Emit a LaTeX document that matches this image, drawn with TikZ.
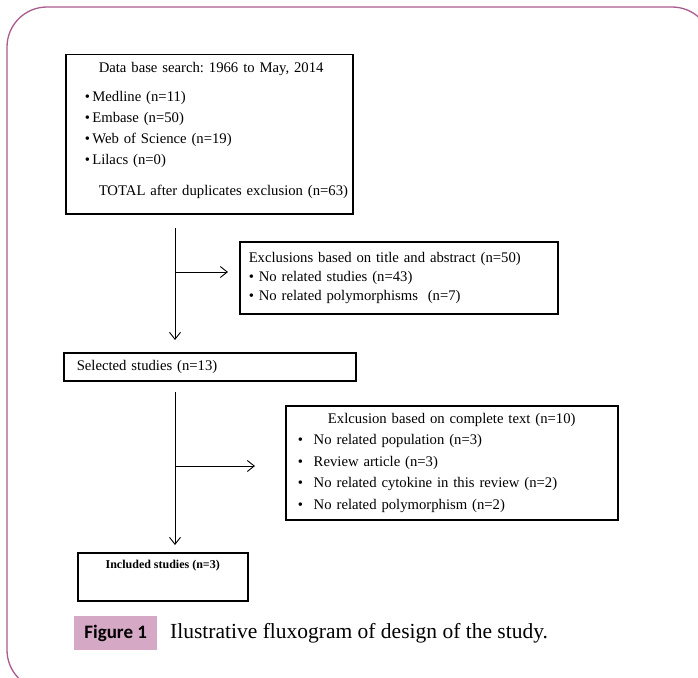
\documentclass[tikz,border=0pt]{standalone}
\usepackage{fontspec}
\setmainfont{Liberation Serif}
\newfontfamily\capsans{Carlito}
\usetikzlibrary{arrows.meta}
\definecolor{framecol}{HTML}{A95C8F}
\definecolor{capfill}{HTML}{D5A8C5}
\frenchspacing
\tikzset{
  box/.style={draw=black, line width=1.5pt, anchor=north west, inner ysep=0pt,
    font=\fontsize{14.7}{21}\selectfont},
  flowarrow/.style={line width=0.9pt, -{Straight Barb[length=7pt,width=11pt]}},
}
\begin{document}
\begin{tikzpicture}[x=1pt,y=-1pt]
\useasboundingbox (0,0) rectangle (698,677);
\clip (0,0) rectangle (698,677);
\fill[white] (0,0) rectangle (698,677);
\draw[framecol, line width=1.3pt, rounded corners=40pt] (7,7) rectangle (712,690);

\node[box, text width=249pt, inner xsep=19pt, minimum height=159pt, align=left] (search) at (65,54)
 {\makebox[249pt][l]{\hspace*{14pt}Data base search: 1966 to May, 2014}\\[8pt]
  •\,Medline (n=11)\\
  •\,Embase (n=50)\\
  •\,Web of Science (n=19)\\
  •\,Lilacs (n=0)\\[10pt]
  \makebox[249pt][l]{\hspace*{14pt}TOTAL after duplicates exclusion (n=63)\rule[-11pt]{0pt}{11pt}}};

\node[box, text width=300pt, inner xsep=9pt, minimum height=72pt, align=left,
  font=\fontsize{14.7}{19}\selectfont] (excl1) at (239,241)
 {Exclusions based on title and abstract (n=50)\\
  • No related studies (n=43)\\
  • No related polymorphisms~~(n=7)};

\node[box, text width=266pt, inner xsep=13pt, minimum height=28pt, align=left] (selected) at (63,352)
 {Selected studies (n=13)};

\node[box, text width=308pt, inner xsep=12pt, minimum height=114pt, align=left,
  font=\fontsize{14.7}{21.5}\selectfont] (excl2) at (285,405)
 {\makebox[308pt][c]{Exlcusion based on complete text (n=10)}\\
  \makebox[16pt][l]{•}No related population (n=3)\\
  \makebox[16pt][l]{•}Review article (n=3)\\
  \makebox[16pt][l]{•}No related cytokine in this review (n=2)\\
  \makebox[16pt][l]{•}No related polymorphism (n=2)};

\node[box, inner xsep=5pt, inner ysep=2pt, font=\fontsize{12}{14}\selectfont] (included) at (77,552)
 {\parbox[c][44pt][t]{160pt}{\centering\vspace*{5pt}\bfseries Included studies (n=3)}};

\coordinate (v1a) at (175,228);
\coordinate (v1b) at (175,340);
\coordinate (h1a) at (175,272);
\coordinate (h1b) at (228,272);
\coordinate (v2a) at (175,392);
\coordinate (v2b) at (175,545);
\coordinate (h2a) at (175,466);
\coordinate (h2b) at (255,466);
\draw[flowarrow] (v1a) -- (v1b);
\draw[flowarrow] (h1a) -- (h1b);
\draw[flowarrow] (v2a) -- (v2b);
\draw[flowarrow] (h2a) -- (h2b);

\node[fill=capfill, anchor=north west, minimum width=83pt, minimum height=34pt, inner sep=0pt,
  font=\capsans\fontsize{19}{22}\selectfont\bfseries] (figlabel) at (74,616) {Figure 1};
\node[anchor=west, inner sep=0pt, font=\fontsize{21.5}{24}\selectfont] (captext) at (170,633)
 {Ilustrative fluxogram of design of the study.};
\end{tikzpicture}
\end{document}
